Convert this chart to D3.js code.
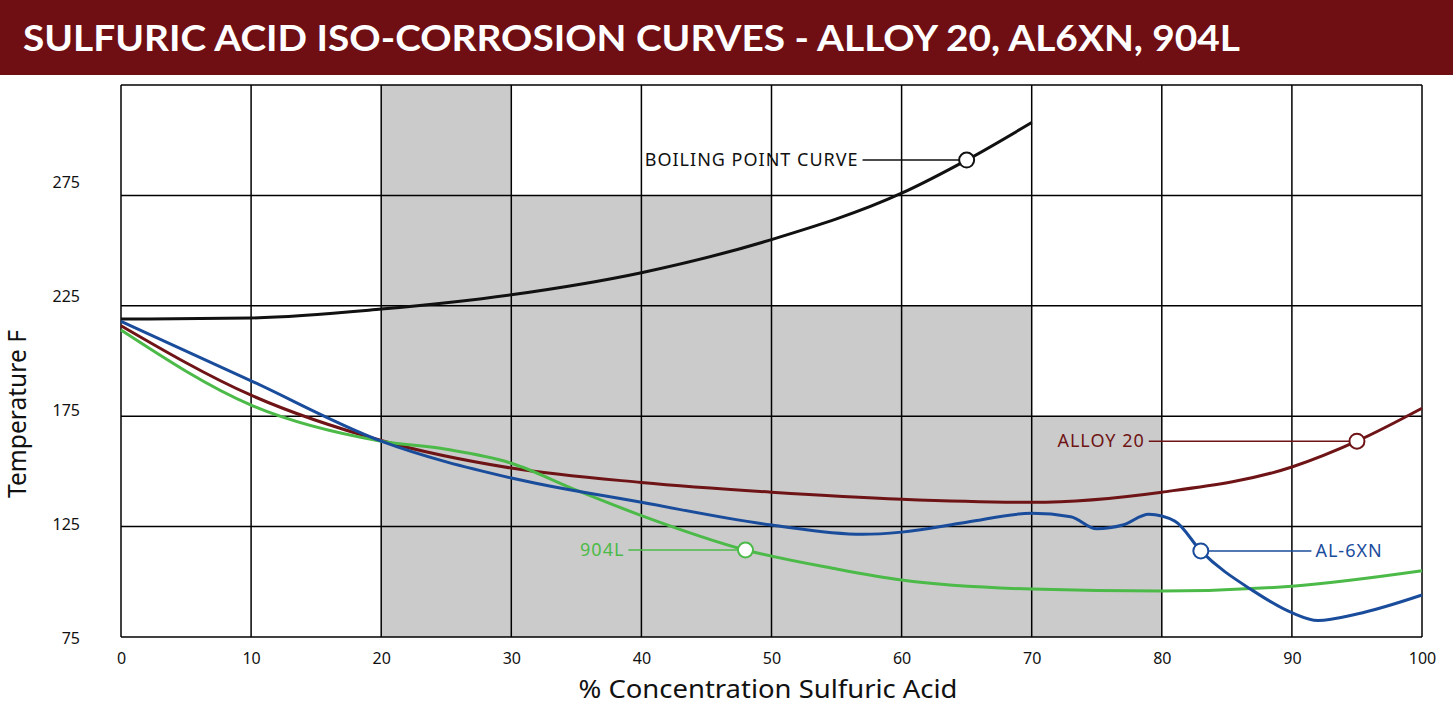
<!DOCTYPE html>
<html><head><meta charset="utf-8">
<script src="https://cdn.jsdelivr.net/npm/d3@7"></script>
<style>body{margin:0;background:#fff}svg{display:block}</style>
</head><body><svg id="c" width="1453" height="714"></svg>
<script>
const title = "SULFURIC ACID ISO-CORROSION CURVES - ALLOY 20, AL6XN, 904L";
const xTicks = [0,10,20,30,40,50,60,70,80,90,100];
const yTicks = [75,125,175,225,275];
const boilX = [0,10,20,30,40,50,60,65,70];
const boilY = [219,219.5,223.5,230,240,255,276,291,308];
const alloyX = [0,10,20,30,40,50,60,70,80,90,95,100];
const alloyY = [216,184.5,164,151.5,145,140.6,137.4,136,140.6,152,163.7,178.6];
const al6X = [0,10,20,30,40,50,57,60,65,70,73,75,77,79,81,83,87,90,92,95,100];
const al6Y = [218,191,163.7,147,136,125.7,121.5,122.5,127,131,129.5,124,125.7,130.6,127.5,114,96,86,82.5,85.4,94];
const g904X = [0,10,20,25,30,35,40,48,55,60,70,80,90,100];
const g904Y = [214,180,163.7,160,153.7,141.5,130,114.4,105.8,100.8,96.7,95.8,98,105];
const zoneX0 = [20,30,50,70];
const zoneX1 = [30,50,70,80];
const zoneTop = [325,275,225,175];
const labels = [
 {name:"BOILING POINT CURVE", x:65, y:291, color:"#111", side:"left", lineTo:57.0},
 {name:"ALLOY 20", x:95, y:163.7, color:"#6f1416", side:"left", lineTo:79.0},
 {name:"AL-6XN", x:83, y:114, color:"#1a4c9c", side:"right", lineTo:91.5},
 {name:"904L", x:48, y:114.4, color:"#4cba48", side:"left", lineTo:39.0}
];

const svg = d3.select("#c");
const x = d3.scaleLinear().domain([0,100]).range([121,1422]);
const y = d3.scaleLinear().domain([75,325]).range([637,85]);
const yLab = d3.scaleLinear().domain([75,275]).range([638,182]);

svg.append("rect").attr("x",0).attr("y",0).attr("width",1453).attr("height",75).attr("fill","#6f0f14");
svg.append("text").attr("x",23).attr("y",51).attr("fill","#fff")
 .attr("font-family","Lato, 'Open Sans', sans-serif").attr("font-weight","bold").attr("font-size",36)
 .attr("textLength",1217).attr("lengthAdjust","spacingAndGlyphs").text(title);

zoneX0.forEach((a,i)=>{
 svg.append("rect").attr("x",x(a)).attr("y",y(zoneTop[i])).attr("width",x(zoneX1[i])-x(a))
  .attr("height",y(75)-y(zoneTop[i])).attr("fill","#cbcbcb");
});

const g = svg.append("g");
xTicks.forEach(t=>g.append("line").attr("x1",x(t)).attr("x2",x(t)).attr("y1",y(75)).attr("y2",y(325)).attr("stroke","#000").attr("stroke-width",1.5));
yTicks.concat([325]).forEach(t=>g.append("line").attr("x1",x(0)).attr("x2",x(100)).attr("y1",y(t)).attr("y2",y(t)).attr("stroke","#000").attr("stroke-width",1.5));

const xa = svg.append("g").attr("transform","translate(0,637)")
 .call(d3.axisBottom(x).tickValues(xTicks).tickSize(0).tickPadding(16));
xa.select(".domain").remove();
xa.selectAll("text").attr("font-size",16).attr("font-family","'Noto Sans', sans-serif").attr("fill","#111");
const ya = svg.append("g").attr("transform","translate(80,0)")
 .call(d3.axisLeft(yLab).tickValues(yTicks).tickSize(0).tickPadding(0));
ya.select(".domain").remove();
ya.selectAll("text").attr("font-size",16).attr("font-family","'Noto Sans', sans-serif").attr("fill","#111");

svg.append("text").attr("x",768).attr("y",698).attr("text-anchor","middle").attr("font-size",25)
 .attr("textLength",379).attr("lengthAdjust","spacingAndGlyphs")
 .attr("font-family","'Noto Sans', sans-serif").attr("fill","#111").text("% Concentration Sulfuric Acid");
svg.append("text").attr("transform","translate(26,414) rotate(-90)").attr("text-anchor","middle").attr("font-size",25)
 .attr("textLength",168).attr("lengthAdjust","spacingAndGlyphs")
 .attr("font-family","'Noto Sans', sans-serif").attr("fill","#111").text("Temperature F");

const line = d3.line().x(d=>x(d[0])).y(d=>y(d[1])).curve(d3.curveMonotoneX);
const series = [[boilX,boilY,"#111"],[alloyX,alloyY,"#6f1416"],[g904X,g904Y,"#4cba48"],[al6X,al6Y,"#1a4c9c"]];
series.forEach(([xs,ys,c])=>{
 svg.append("path").attr("d",line(xs.map((v,i)=>[v,ys[i]]))).attr("fill","none").attr("stroke",c).attr("stroke-width",3);
});

labels.forEach(l=>{
 const cx=x(l.x), cy=y(l.y), ex=x(l.lineTo);
 svg.append("line").attr("x1",ex).attr("x2",cx).attr("y1",cy).attr("y2",cy).attr("stroke",l.color).attr("stroke-width",1.5);
 svg.append("circle").attr("cx",cx).attr("cy",cy).attr("r",7.5).attr("fill","#fff").attr("stroke",l.color).attr("stroke-width",2);
 svg.append("text").attr("x",l.side==="left"?ex-4:ex+4).attr("y",cy+6)
  .attr("text-anchor",l.side==="left"?"end":"start").attr("font-size",18).attr("letter-spacing",1)
  .attr("font-family","'Noto Sans', sans-serif").attr("fill",l.color).text(l.name);
});
</script></body></html>
